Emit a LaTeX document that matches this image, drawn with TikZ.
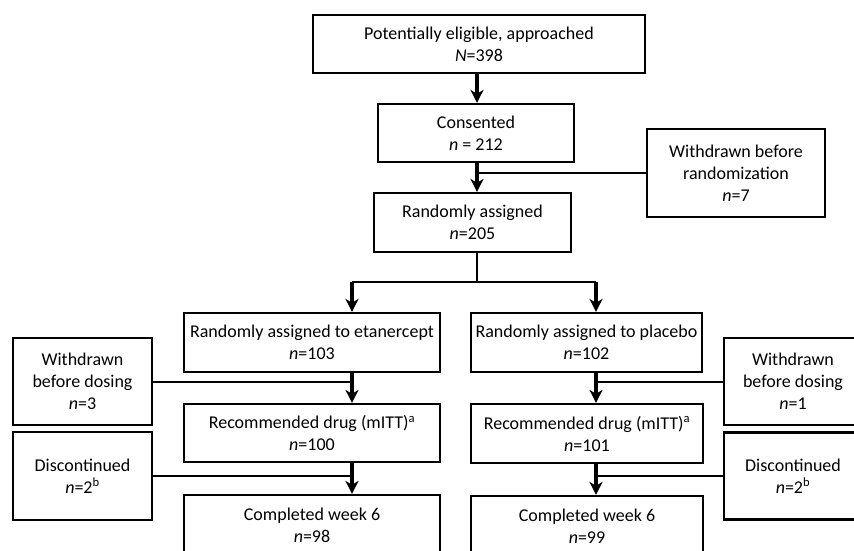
\documentclass[tikz,border=0pt]{standalone}
\usepackage{fontspec}
\setmainfont{Carlito}
\usetikzlibrary{arrows.meta}

\tikzset{
  box/.style={draw, line width=2.2pt, align=center, inner sep=0pt,
    font=\fontsize{18}{22}\selectfont},
  flow/.style={line width=3.2pt, -{Stealth[length=13pt,width=13pt,inset=4pt]}},
  side/.style={line width=2pt}
}
\newcommand{\nn}{\textit{n}}

\begin{document}
\begin{tikzpicture}[x=1pt,y=-1pt]
  \useasboundingbox (0,0) rectangle (854,551);
  \clip (0,0) rectangle (854,551);

  % main column
  \node[box, minimum width=332, minimum height=58] (eligible) at (479,44)
    {Potentially eligible, approached\\\textit{N}=398};
  \node[box, minimum width=196, minimum height=58] (consented) at (476,133)
    {Consented\\\nn{} = 212};
  \node[box, minimum width=178, minimum height=88] (withdrawnrand) at (736,173)
    {Withdrawn before\\randomization\\\nn=7};
  \node[box, minimum width=197, minimum height=59] (randomized) at (472.5,222.5)
    {Randomly assigned\\\nn=205};

  % arms
  \node[box, minimum width=256, minimum height=59] (etan) at (312,342.5)
    {Randomly assigned to etanercept\\\nn=103};
  \node[box, minimum width=231, minimum height=59] (placebo) at (586.5,342.5)
    {Randomly assigned to placebo\\\nn=102};
  \node[box, minimum width=256, minimum height=58] (mittL) at (312,433)
    {Recommended drug (mITT)\textsuperscript{a}\\\nn=100};
  \node[box, minimum width=232, minimum height=59] (mittR) at (587,433.5)
    {Recommended drug (mITT)\textsuperscript{a}\\\nn=101};
  \node[box, minimum width=256, minimum height=60] (compL) at (312,525)
    {Completed week 6\\\nn=98};
  \node[box, minimum width=232, minimum height=60] (compR) at (587,526)
    {Completed week 6\\\nn=99};

  % side boxes
  \node[box, minimum width=139, minimum height=87] (wdL) at (82.5,381.5)
    {Withdrawn\\before dosing\\\nn=3};
  \node[box, minimum width=139, minimum height=88] (discL) at (82.5,476)
    {Discontinued\\\nn=2\textsuperscript{b}};
  \node[box, minimum width=146, minimum height=87] (wdR) at (797,381.5)
    {\hspace*{-8pt}Withdrawn\\\hspace*{-8pt}before dosing\\\hspace*{-8pt}\nn=1};
  \node[box, minimum width=146, minimum height=87] (discR) at (797,476)
    {\hspace*{-8pt}Discontinued\\\hspace*{-8pt}\nn=2\textsuperscript{b}};

  \coordinate (trunk) at (477,282);
  \coordinate (splitL) at (352,282);
  \coordinate (splitR) at (596,282);

  % connectors
  \draw[flow] (eligible.south -| trunk) -- (consented.north -| trunk);
  \draw[flow] (consented.south -| trunk) -- (randomized.north -| trunk);
  \draw[side] (withdrawnrand.west) -- (withdrawnrand.west -| trunk);
  \draw[side] (randomized.south -| trunk) -- (trunk);
  \draw[side] (splitL) -- (splitR);
  \draw[flow] (splitL) -- (etan.north -| splitL);
  \draw[flow] (splitR) -- (placebo.north -| splitR);

  \draw[flow] (etan.south -| splitL) -- (mittL.north -| splitL);
  \draw[flow] (mittL.south -| splitL) -- (compL.north -| splitL);
  \draw[side] (wdL.east) -- (wdL.east -| splitL);
  \draw[side] (discL.east) -- (discL.east -| splitL);

  \draw[flow] (placebo.south -| splitR) -- (mittR.north -| splitR);
  \draw[flow] (mittR.south -| splitR) -- (compR.north -| splitR);
  \draw[side] (wdR.west) -- (wdR.west -| splitR);
  \draw[side] (discR.west) -- (discR.west -| splitR);
\end{tikzpicture}
\end{document}
